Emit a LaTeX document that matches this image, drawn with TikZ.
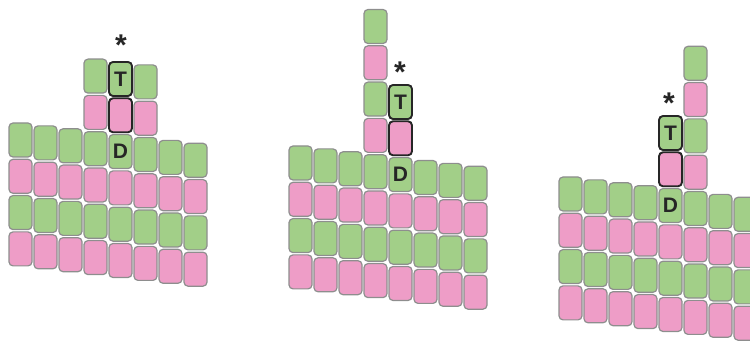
\documentclass[tikz,border=0pt]{standalone}
\usepackage{fontspec}
\setmainfont{Liberation Sans}
\definecolor{cg}{HTML}{A2CF88}
\definecolor{cp}{HTML}{EE9DC7}
\definecolor{cb}{HTML}{8E8E8E}
\tikzset{
 cell/.style={draw=cb, line width=1.2pt, rounded corners=4pt, minimum width=23pt, minimum height=34pt, inner sep=0pt, outer sep=0pt},
 g/.style={cell, fill=cg},
 p/.style={cell, fill=cp},
 hl/.style={draw=black!85, line width=1.9pt},
 lab/.style={font=\fontsize{21}{21}\selectfont\bfseries, text=black!85, inner sep=0pt},
 star/.style={font=\fontsize{30}{30}\selectfont\bfseries, text=black!85, inner sep=0pt, anchor=base}
}
\newcommand\mkcell[6]{\node[#6] (#1) at ({#2+25*(#4)+11.5},{#3+2.9*(#4)+36.3*(#5)+17}) {};}
\begin{document}
\begin{tikzpicture}[x=1pt,y=-1pt]
\clip (0,0) rectangle (750,344);
% ---------- panel 1 ----------
\foreach \c in {0,...,7}{\foreach \r/\s in {0/g,1/p,2/g,3/p}{\mkcell{a\c r\r}{9}{123}{\c}{\r}{\s}}}
\mkcell{a3m2}{9}{123}{3}{-2}{g}
\mkcell{a3m1}{9}{123}{3}{-1}{p}
\mkcell{a5m2}{9}{123}{5}{-2}{g}
\mkcell{a5m1}{9}{123}{5}{-1}{p}
\mkcell{a4m2}{9}{123}{4}{-2}{g,hl}
\mkcell{a4m1}{9}{123}{4}{-1}{p,hl}
\node[lab] (aT) at (a4m2) {T};
\node[lab] (aD) at (a4r0) {D};
\node[star] (aS) at (121,56) {*};
% ---------- panel 2 ----------
\foreach \c in {0,...,7}{\foreach \r/\s in {0/g,1/p,2/g,3/p}{\mkcell{b\c r\r}{289}{146}{\c}{\r}{\s}}}
\mkcell{b3m4}{289}{146}{3}{-4}{g}
\mkcell{b3m3}{289}{146}{3}{-3}{p}
\mkcell{b3m2}{289}{146}{3}{-2}{g}
\mkcell{b3m1}{289}{146}{3}{-1}{p}
\mkcell{b4m2}{289}{146}{4}{-2}{g,hl}
\mkcell{b4m1}{289}{146}{4}{-1}{p,hl}
\node[lab] (bT) at (b4m2) {T};
\node[lab] (bD) at (b4r0) {D};
\node[star] (bS) at (400,83) {*};
% ---------- panel 3 ----------
\foreach \c in {0,...,7}{\foreach \r/\s in {0/g,1/p,2/g,3/p}{\mkcell{c\c r\r}{559}{177}{\c}{\r}{\s}}}
\mkcell{c5m4}{559}{177}{5}{-4}{g}
\mkcell{c5m3}{559}{177}{5}{-3}{p}
\mkcell{c5m2}{559}{177}{5}{-2}{g}
\mkcell{c5m1}{559}{177}{5}{-1}{p}
\mkcell{c4m2}{559}{177}{4}{-2}{g,hl}
\mkcell{c4m1}{559}{177}{4}{-1}{p,hl}
\node[lab] (cT) at (c4m2) {T};
\node[lab] (cD) at (c4r0) {D};
\node[star] (cS) at (669,114) {*};
\end{tikzpicture}
\end{document}
